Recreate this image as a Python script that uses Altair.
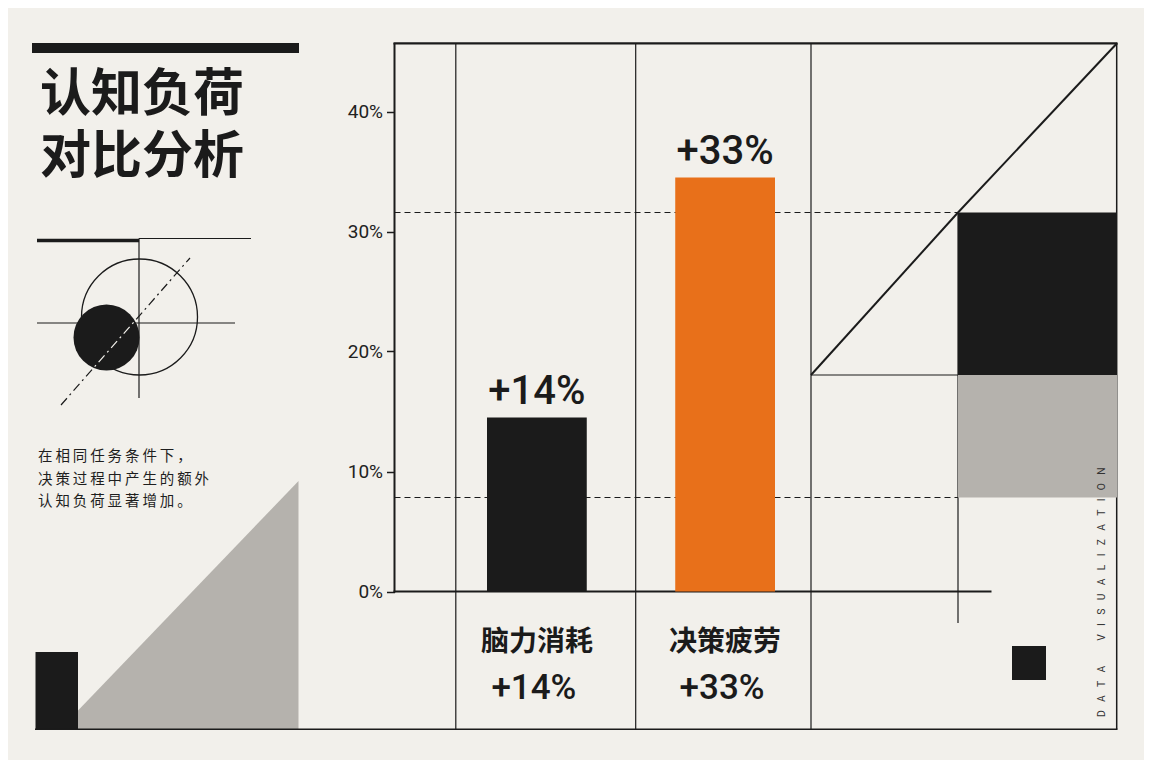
import altair as alt
import pandas as pd

# ---------------- data ----------------
categories = ["脑力消耗", "决策疲劳"]
values = [0.145, 0.345]
value_labels = ["+14%", "+33%"]
bar_colors = ["#1b1b1b", "#e8701a"]
y_ticks = [0, 0.1, 0.2, 0.3, 0.4]

title_lines = ["认知负荷", "对比分析"]
note_lines = ["在相同任务条件下，", "决策过程中产生的额外", "认知负荷显著增加。"]
side_words = ["DATA", "VISUALIZATION"]

# ---------------- layout / style ----------------
W, H, M = 1136, 752, 8
BG = "#f2f0eb"
INK = "#1b1b1b"
GREY = "#b5b2ad"
CJK = "Noto Sans CJK SC"
LAT = "Roboto"

Y_ZERO = 591.5          # page y of 0%
PX_PER_UNIT = 1200.0    # pixels per 100%
AXIS_X = 394.5          # page x of value axis
y_domain = [(Y_ZERO - (M + H)) / PX_PER_UNIT, (Y_ZERO - M) / PX_PER_UNIT]
band_range = [487 - M, 775 - M]
X_AXIS_OFFSET = Y_ZERO - (M + H)


def px(f):
    return alt.X(f"{f}:Q", scale=alt.Scale(domain=[M, M + W], nice=False, zero=False), axis=None)


def py(f):
    return alt.Y(f"{f}:Q", scale=alt.Scale(domain=[M, M + H], nice=False, zero=False, reverse=True), axis=None)


# ---------------- decorations (page-pixel frame) ----------------
solid = pd.DataFrame(
    [
        (AXIS_X, 43, AXIS_X, 592.5, 2.0),
        (393.5, 43.3, 1117.5, 43.3, 2.2),
        (393.5, Y_ZERO, 991.5, Y_ZERO, 2.0),
        (35, 729.3, 1117.5, 729.3, 1.5),
        (455.8, 43, 455.8, 729.3, 1.2),
        (635.7, 43, 635.7, 729.3, 1.2),
        (811, 43, 811, 729.3, 1.2),
        (1116.7, 43, 1116.7, 729.3, 1.5),
        (958, 212.5, 958, 623, 1.2),
        (811, 375, 958, 375, 1.2),
        (811, 375, 958, 212.5, 2.0),
        (958, 212.5, 1117, 43.3, 2.0),
        (37, 240.5, 139, 240.5, 3.5),
        (139, 238.5, 251, 238.5, 1.2),
        (139, 238.5, 139, 398, 1.2),
        (37, 323, 235, 323, 1.2),
    ],
    columns=["x", "y", "x2", "y2", "w"],
)
dashed = pd.DataFrame([(AXIS_X, 212.5, 958, 212.5), (AXIS_X, 497.5, 958, 497.5)],
                      columns=["x", "y", "x2", "y2"])
dashdot = pd.DataFrame([(61, 405, 190, 258)], columns=["x", "y", "x2", "y2"])
dashdot_in = pd.DataFrame([(93.8, 367.6, 134.7, 321.0)], columns=["x", "y", "x2", "y2"])

rects = pd.DataFrame(
    [
        (32, 43, 299, 53, INK),
        (958, 212.5, 1117, 375, INK),
        (958, 375, 1117, 497.5, GREY),
        (1012, 646, 1046, 680, INK),
    ],
    columns=["x", "y", "x2", "y2", "c"],
)
rect_bl = pd.DataFrame([(35.5, 652, 78, 729.3, INK)], columns=["x", "y", "x2", "y2", "c"])
tri = pd.DataFrame({"x": [60, 298.5], "y": [729.3, 481], "y2": [729.3, 729.3]})

l_solid = alt.Chart(solid).mark_rule(color=INK, strokeCap="butt").encode(
    x=px("x"), y=py("y"), x2="x2", y2="y2", strokeWidth=alt.StrokeWidth("w:Q", scale=None))
l_dashed = alt.Chart(dashed).mark_rule(color=INK, strokeWidth=1.2, strokeDash=[6, 4]).encode(
    x=px("x"), y=py("y"), x2="x2", y2="y2")
l_dashdot = alt.Chart(dashdot).mark_rule(color=INK, strokeWidth=1.2, strokeDash=[9, 4, 2, 4]).encode(
    x=px("x"), y=py("y"), x2="x2", y2="y2")
l_dashdot_in = alt.Chart(dashdot_in).mark_rule(color=BG, strokeWidth=1.2, strokeDash=[9, 4, 2, 4],
                                               strokeDashOffset=49.7).encode(
    x=px("x"), y=py("y"), x2="x2", y2="y2")
l_rects = alt.Chart(rects).mark_rect().encode(
    x=px("x"), y=py("y"), x2="x2", y2="y2", color=alt.Color("c:N", scale=None))
l_tri = alt.Chart(tri).mark_area(color=GREY, opacity=1).encode(x=px("x"), y=py("y"), y2="y2")
l_rect_bl = alt.Chart(rect_bl).mark_rect().encode(
    x=px("x"), y=py("y"), x2="x2", y2="y2", color=alt.Color("c:N", scale=None))
l_ring = alt.Chart(pd.DataFrame({"x": [139.5], "y": [317]})).mark_point(
    shape="circle", filled=False, size=116 ** 2, color=INK, strokeWidth=1.3, opacity=1).encode(
    x=px("x"), y=py("y"))
l_dot = alt.Chart(pd.DataFrame({"x": [106.5], "y": [337.5]})).mark_point(
    shape="circle", filled=True, size=66 ** 2, color=INK, opacity=1).encode(
    x=px("x"), y=py("y"))

# ---------------- texts ----------------
title_df = pd.DataFrame({"t": ["\n".join(title_lines)], "x": [40], "y": [71.2]})
l_title = alt.Chart(title_df).mark_text(font=CJK, fontSize=51, fontWeight="bold", align="left",
                                        baseline="top", lineBreak="\n", lineHeight=62,
                                        color=INK).encode(
    x=px("x"), y=py("y"), text="t:N")

note_df = pd.DataFrame({"t": ["\u2009".join(s) for s in note_lines],
                        "x": [38, 38, 38], "y": [461.2, 483.6, 506.4]})
l_note = alt.Chart(note_df).mark_text(font=CJK, fontSize=14.5, align="left",
                                      baseline="alphabetic", color="#1e1e1e").encode(
    x=px("x"), y=py("y"), text="t:N")

SEP = "\u2007 "
side_df = pd.DataFrame({"t": [(SEP * 3).join(SEP.join(w) for w in side_words)],
                        "x": [1101.7], "y": [717]})
l_side = alt.Chart(side_df).mark_text(font=LAT, fontSize=10.3, angle=270, align="left",
                                      baseline="middle", color="#333333").encode(
    x=px("x"), y=py("y"), text="t:N")

# ---------------- data chart ----------------
bars_df = pd.DataFrame({"cat": categories, "val": values, "lab": value_labels})

y_data_axis = alt.Axis(values=y_ticks, format=".0%", orient="left", offset=-(AXIS_X - M),
                       domain=False, grid=False, tickSize=8, tickWidth=1.5, tickColor=INK,
                       labelFont=LAT, labelFontSize=19, labelFontWeight=400, labelColor="#222222",
                       labelPadding=4, title=None)

bars = alt.Chart(bars_df).mark_bar(opacity=1).encode(
    x=alt.X("cat:N", sort=categories,
            scale=alt.Scale(type="band", domain=categories, range=band_range, paddingInner=0.47,
                            paddingOuter=0),
            axis=alt.Axis(orient="bottom", offset=X_AXIS_OFFSET, domain=False, ticks=False, tickSize=0,
                          labelFont=CJK, labelFontSize=28, labelFontWeight="bold", labelColor=INK,
                          labelPadding=37, labelAngle=0, title=None)),
    y=alt.Y("val:Q", scale=alt.Scale(domain=y_domain, nice=False, zero=False), axis=y_data_axis),
    color=alt.Color("cat:N", scale=alt.Scale(domain=categories, range=bar_colors), legend=None),
)

bar_labels = alt.Chart(bars_df).mark_text(font=LAT, fontSize=40, fontWeight=500, color=INK,
                                          baseline="alphabetic", dy=-14).encode(
    x=alt.X("lab:N", sort=value_labels,
            scale=alt.Scale(type="band", domain=value_labels, range=band_range, paddingInner=0.47,
                            paddingOuter=0),
            axis=alt.Axis(orient="bottom", offset=X_AXIS_OFFSET, domain=False, ticks=False, tickSize=0,
                          labelFont=LAT, labelFontSize=35, labelFontWeight=500, labelColor=INK,
                          labelPadding=79, labelOffset=-3, labelAngle=0, title=None)),
    y=alt.Y("val:Q", scale=alt.Scale(domain=y_domain, nice=False, zero=False), axis=None),
    text="lab:N",
)

chart = alt.layer(
    l_tri, l_rect_bl, l_solid, l_dashed, l_dashdot, l_ring, l_dot, l_dashdot_in, l_rects,
    l_title, l_note, l_side, bars, bar_labels,
).resolve_scale(x="independent", y="independent").properties(
    width=W, height=H, autosize="none", padding=0,
).configure(background=BG).configure_view(stroke=None)

chart.save("out.html", embed_options={"renderer": "svg", "actions": False})
